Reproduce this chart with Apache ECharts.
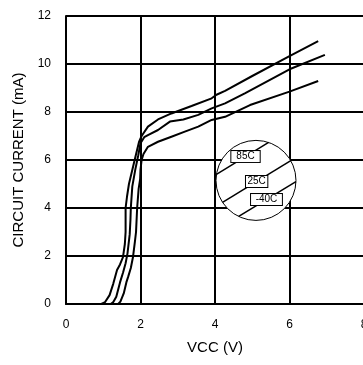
<!DOCTYPE html>
<html>
<head>
<meta charset="utf-8">
<script src="https://cdn.jsdelivr.net/npm/echarts@6/dist/echarts.min.js"></script>
<style>
  html, body { margin: 0; padding: 0; background: #fff; }
  #chart { width: 363px; height: 365px; }
</style>
</head>
<body>
<div id="chart"></div>
<script>
// Supply current vs. supply voltage at three temperatures: [VCC (V), current (mA)]
var curve85C = [
  [0, 0], [0.95, 0], [1.05, 0.08], [1.17, 0.37], [1.27, 0.85], [1.37, 1.42], [1.45, 1.65],
  [1.53, 1.95], [1.58, 2.5], [1.60, 3.0], [1.60, 4.0], [1.64, 4.5], [1.69, 5.0], [1.80, 5.72],
  [1.89, 6.3], [1.96, 6.75], [2.03, 7.0], [2.2, 7.39], [2.47, 7.69], [2.83, 7.94], [3.37, 8.25],
  [3.91, 8.57], [4.04, 8.72], [4.27, 8.88], [5.0, 9.5], [6.0, 10.33], [6.77, 10.95]
];
var curve25C = [
  [0, 0], [1.2, 0], [1.27, 0.08], [1.35, 0.3], [1.45, 0.9], [1.53, 1.3], [1.6, 1.7],
  [1.65, 2.1], [1.71, 2.9], [1.73, 3.5], [1.74, 4.0], [1.78, 4.9], [1.86, 5.6], [1.94, 6.2],
  [2.0, 6.7], [2.1, 6.95], [2.2, 7.04], [2.47, 7.25], [2.79, 7.6], [3.15, 7.69], [3.55, 7.88],
  [3.91, 8.15], [4.27, 8.36], [4.8, 8.78], [6.0, 9.78], [6.95, 10.38]
];
var curveM40C = [
  [0, 0], [1.4, 0], [1.46, 0.1], [1.55, 0.44], [1.62, 0.9], [1.67, 1.14], [1.74, 1.5],
  [1.80, 1.97], [1.85, 2.6], [1.88, 3.0], [1.91, 4.0], [1.95, 4.8], [1.99, 5.2], [2.0, 5.6],
  [2.03, 6.0], [2.08, 6.25], [2.2, 6.55], [2.47, 6.76], [2.83, 6.97], [3.19, 7.18], [3.55, 7.39],
  [3.91, 7.67], [4.27, 7.8], [4.94, 8.29], [6.0, 8.85], [6.77, 9.29]
];

// Axis ranges and titles
var xRange = [0, 8];
var xStep = 2;
var yRange = [0, 12];
var yStep = 2;
var xTitle = 'VCC (V)';
var yTitle = 'CIRCUIT CURRENT (mA)';

// Temperature key inside the circle
var keyLabels = ['85C', '25C', '-40C'];
var keyCenter = [5.1, 5.15];          // data position of the key circle

var FONT = '"Liberation Sans", Arial, sans-serif';

var chart = echarts.init(document.getElementById('chart'), null, { renderer: 'canvas' });

function lineSeries(name, data) {
  return {
    name: name,
    type: 'line',
    data: data,
    showSymbol: false,
    symbol: 'none',
    smooth: false,
    silent: true,
    z: 5,
    lineStyle: { color: '#000', width: 2 }
  };
}

chart.setOption({
  animation: false,
  backgroundColor: '#fff',
  textStyle: { fontFamily: FONT, color: '#000' },
  grid: { left: 66, top: 16, width: 298, height: 288, containLabel: false, outerBoundsMode: 'none' },
  xAxis: {
    type: 'value',
    min: xRange[0], max: xRange[1], interval: xStep,
    name: xTitle, nameLocation: 'middle', nameGap: 36,
    nameTextStyle: { fontSize: 15, color: '#000', fontFamily: FONT },
    axisLine: { show: true, lineStyle: { color: '#000', width: 2 } },
    axisTick: { show: false },
    axisLabel: { fontSize: 12, color: '#000', margin: 15, fontFamily: FONT, showMaxLabel: true },
    splitLine: { show: true, lineStyle: { color: '#000', width: 2 } }
  },
  yAxis: {
    type: 'value',
    min: yRange[0], max: yRange[1], interval: yStep,
    name: yTitle, nameLocation: 'middle', nameGap: 40, nameRotate: 90,
    nameTextStyle: { fontSize: 15, color: '#000', fontFamily: FONT },
    axisLine: { show: true, lineStyle: { color: '#000', width: 2 } },
    axisTick: { show: false },
    axisLabel: { fontSize: 12, color: '#000', margin: 15, fontFamily: FONT },
    splitLine: { show: true, lineStyle: { color: '#000', width: 2 } }
  },
  series: [
    lineSeries('85C', curve85C),
    lineSeries('25C', curve25C),
    lineSeries('-40C', curveM40C)
  ]
});

// Key: white circle with three parallel slanted strokes, each carrying a boxed label
(function drawKey() {
  var c = chart.convertToPixel({ gridIndex: 0 }, keyCenter);
  var r = 40;
  var ang = 31.4 * Math.PI / 180;
  var t = [Math.cos(ang), -Math.sin(ang)];   // along the strokes
  var n = [Math.sin(ang), Math.cos(ang)];    // across the strokes
  var offsets = [-25.8, 1.3, 21.8];          // stroke distance from circle centre
  var labelShift = [3.5, 0, -1];             // label position along each stroke
  var padX = [5, 1.5, 4.6];

  var elements = [{
    type: 'circle',
    shape: { cx: c[0], cy: c[1], r: r },
    style: { fill: '#fff', stroke: '#000', lineWidth: 1 },
    z: 20
  }];

  keyLabels.forEach(function (label, i) {
    var d = offsets[i];
    var h = Math.sqrt(r * r - d * d);
    var px = c[0] + d * n[0], py = c[1] + d * n[1];
    elements.push({
      type: 'line',
      shape: { x1: px - h * t[0], y1: py - h * t[1], x2: px + h * t[0], y2: py + h * t[1] },
      style: { stroke: '#000', lineWidth: 1.5 },
      z: 21
    });
    elements.push({
      type: 'text',
      x: px + labelShift[i] * t[0],
      y: py + labelShift[i] * t[1],
      style: {
        text: label,
        fontSize: 10,
        fontFamily: FONT,
        fill: '#000',
        align: 'center',
        verticalAlign: 'middle',
        lineHeight: 10,
        backgroundColor: '#fff',
        borderColor: '#000',
        borderWidth: 1,
        padding: [1, padX[i], 0, padX[i]]
      },
      z: 22
    });
  });

  chart.setOption({ graphic: { elements: elements } });
})();
</script>
</body>
</html>
